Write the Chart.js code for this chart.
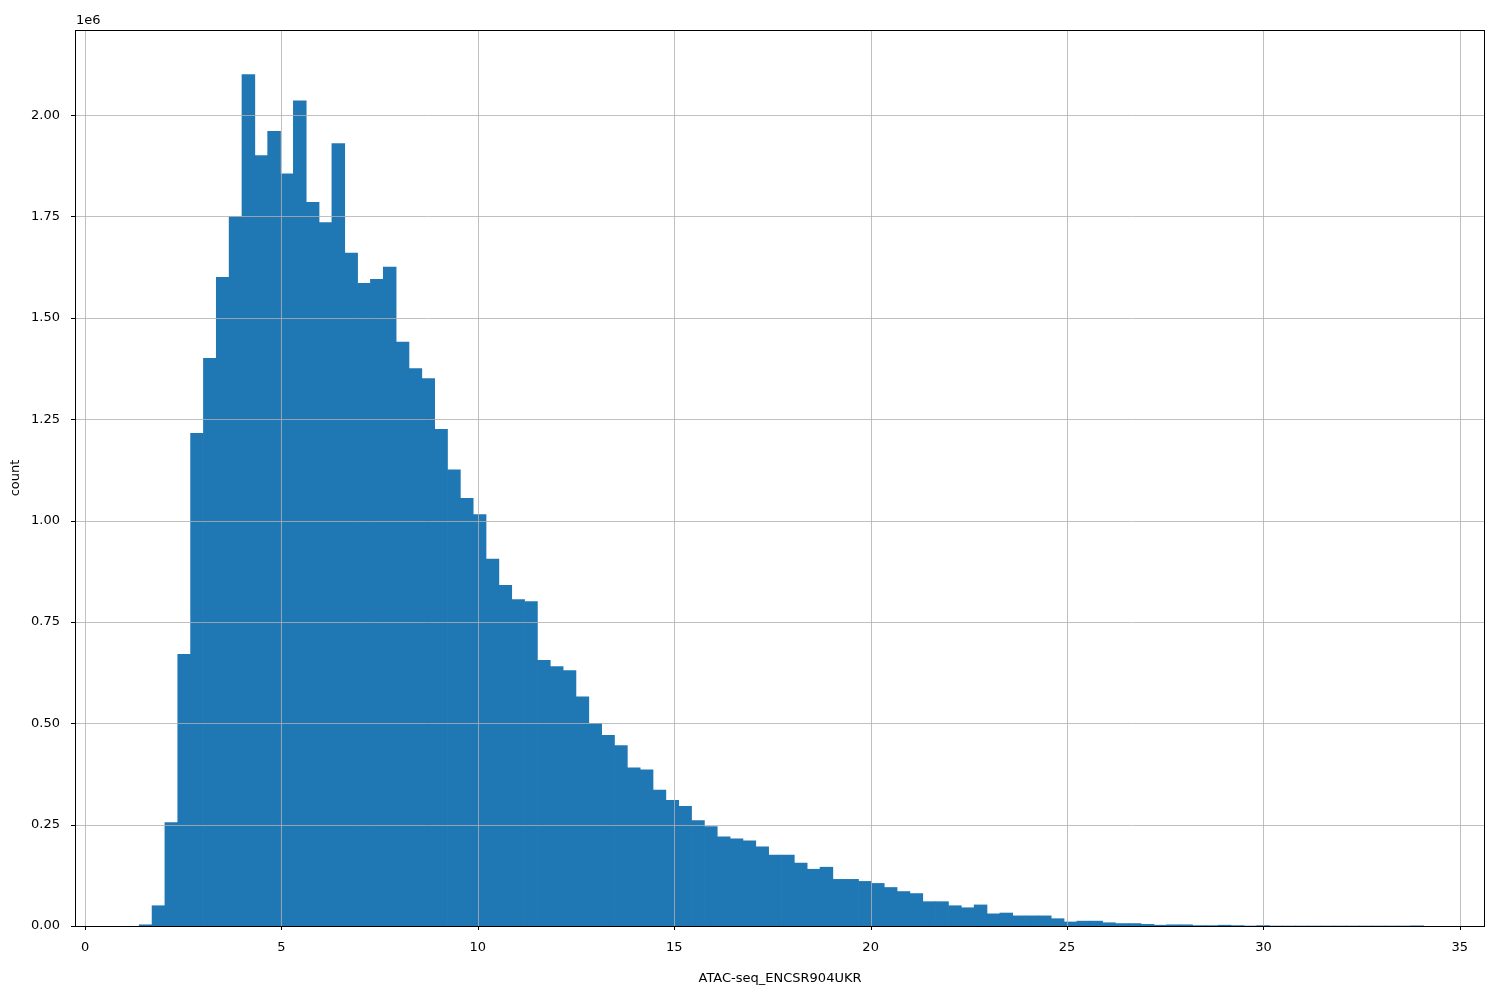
<!DOCTYPE html>
<html><head><meta charset="utf-8">
<script src="https://cdn.jsdelivr.net/npm/chart.js@4"></script>
<style>html,body{margin:0;padding:0;background:#fff}#w{width:1500px;height:1000px}</style>
</head><body><div id="w"><canvas id="c"></canvas></div>
<script>
const binStart = 1.38;
const binWidth = 0.327;
const counts = [0.003,0.05,0.255,0.67,1.215,1.40,1.60,1.75,2.10,1.90,1.96,1.855,2.035,1.785,1.735,1.93,1.66,1.585,1.595,1.625,
1.44,1.375,1.35,1.225,1.125,1.055,1.015,0.905,0.84,0.805,0.80,0.655,0.64,0.63,0.565,0.50,0.47,0.445,0.39,0.385,
0.335,0.31,0.295,0.26,0.245,0.22,0.215,0.21,0.195,0.175,0.175,0.155,0.14,0.145,0.115,0.115,0.11,0.105,0.095,0.085,
0.08,0.06,0.06,0.05,0.045,0.052,0.03,0.032,0.025,0.025,0.025,0.018,0.01,0.012,0.012,0.008,0.006,0.006,0.004,0.002,
0.003,0.003,0.001,0.001,0.002,0.001,0,0.001,0,0,0,0,0,0,0,0,0,0,0,0.0005];
const xTicks = [0,5,10,15,20,25,30,35];
const yTicks = [0,0.25,0.5,0.75,1.0,1.25,1.5,1.75,2.0];
const xLabel = 'ATAC-seq_ENCSR904UKR';
const yLabel = 'count';

const data = counts.map((v,i)=>({x: binStart + binWidth*(i+0.5), y: v*1e6}));
const font = {family:'DejaVu Sans', size:13};
const gridTop = {
  id:'gridTop',
  afterDatasetsDraw(ch){
    const {ctx, chartArea:a, scales:{x,y}} = ch;
    ctx.save(); ctx.strokeStyle='#b0b0b0'; ctx.lineWidth=0.8;
    xTicks.forEach(t=>{const p=Math.round(x.getPixelForValue(t))+0.5;ctx.beginPath();ctx.moveTo(p,a.top);ctx.lineTo(p,a.bottom);ctx.stroke();});
    yTicks.forEach(t=>{const p=Math.round(y.getPixelForValue(t*1e6))+0.5;ctx.beginPath();ctx.moveTo(a.left,p);ctx.lineTo(a.right,p);ctx.stroke();});
    ctx.strokeStyle='#000'; ctx.lineWidth=1;
    xTicks.forEach(t=>{const p=Math.round(x.getPixelForValue(t))+0.5;ctx.beginPath();ctx.moveTo(p,a.bottom);ctx.lineTo(p,a.bottom+4);ctx.stroke();});
    yTicks.forEach(t=>{const p=Math.round(y.getPixelForValue(t*1e6))+0.5;ctx.beginPath();ctx.moveTo(a.left-4,p);ctx.lineTo(a.left,p);ctx.stroke();});
    ctx.strokeRect(a.left+0.5,a.top+0.5,a.right-a.left-1,a.bottom-a.top);
    ctx.fillStyle='#000'; ctx.font='13px DejaVu Sans'; ctx.textBaseline='bottom';
    ctx.fillText('1e6', a.left+1, a.top-3);
    ctx.restore();
  }
};
new Chart(document.getElementById('c'),{
  type:'bar',
  data:{datasets:[{data, backgroundColor:'#1f77b4', borderWidth:0, barPercentage:1, categoryPercentage:1, grouped:false}]},
  options:{
    responsive:true, maintainAspectRatio:false, animation:false,
    layout:{padding:{top:30,right:15,left:0,bottom:10}},
    plugins:{legend:{display:false}, tooltip:{enabled:false}},
    scales:{
      x:{type:'linear', min:-0.255, max:35.64, offset:false,
        afterBuildTicks(s){s.ticks=xTicks.map(v=>({value:v}));},
        afterFit(s){s.height=64;},
        grid:{display:false},
        border:{display:false},
        ticks:{color:'#000', font, maxRotation:0, padding:6, callback:v=>String(v)},
        title:{display:true, text:xLabel, color:'#000', font, padding:{top:6}}},
      y:{min:0, max:2.21e6,
        afterBuildTicks(s){s.ticks=yTicks.map(v=>({value:v*1e6}));},
        afterFit(s){s.width=75;},
        grid:{display:false},
        border:{display:false},
        ticks:{color:'#000', font, padding:7, callback:v=>(v/1e6).toFixed(2)},
        title:{display:true, text:yLabel, color:'#000', font, padding:{top:8,bottom:4}}}
    }
  },
  plugins:[gridTop]
});
</script></body></html>
